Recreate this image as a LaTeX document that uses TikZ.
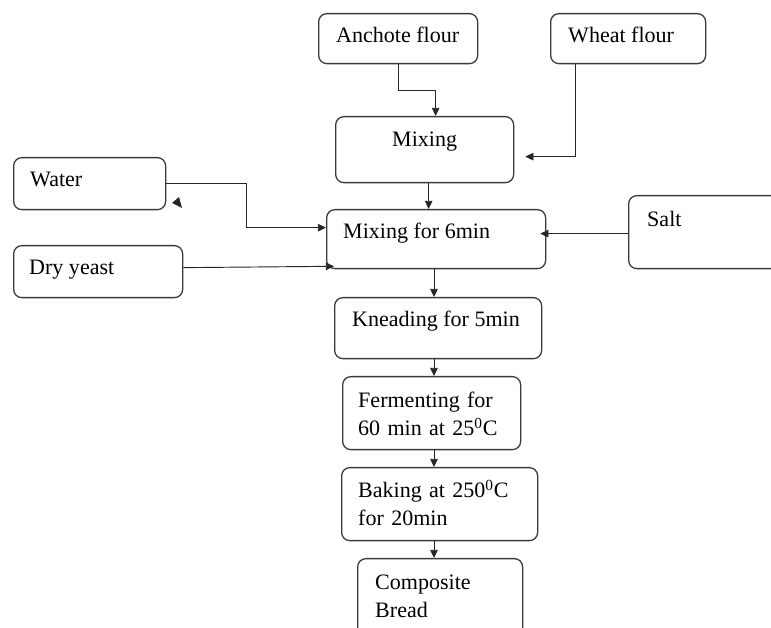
\documentclass[tikz,border=0pt]{standalone}
\usepackage{fontspec}
\setmainfont{LiberationSerif}[Extension=.ttf,UprightFont=*-Regular,BoldFont=*-Bold,ItalicFont=*-Italic,BoldItalicFont=*-BoldItalic]
\usetikzlibrary{arrows.meta,calc}
\definecolor{lineg}{HTML}{3A3A3A}
\tikzset{
  box/.style={draw=lineg,line width=1.1pt,rounded corners=7pt,anchor=north west,inner sep=0pt},
  sz/.style 2 args={minimum width=#1*0.03cm,minimum height=#2*0.03cm},
  lbl/.style={anchor=base west,inner sep=0pt,font=\rmfamily\fontsize{18.8}{23.9}\selectfont,align=left},
  ar/.style={-{Triangle[length=7pt,width=6.5pt]},draw=black!85,line width=0.8pt},
}
\begin{document}
\begin{tikzpicture}[x=0.03cm,y=-0.03cm]
  \useasboundingbox (0,0) rectangle (771,628);
  \clip (0,0) rectangle (771,628);
  % boxes
  \node[box,sz={159}{50}] (anc) at (318,13) {};
  \node[box,sz={155}{50}] (wht) at (550,13) {};
  \node[box,sz={178}{66}] (mix) at (335,116) {};
  \node[box,sz={152}{52}] (wat) at (13,157) {};
  \node[box,sz={169}{52}] (dry) at (13,245) {};
  \node[box,sz={219}{59}] (mix6) at (326,209) {};
  \node[box,sz={200}{73}] (salt) at (628,195) {};
  \node[box,sz={207}{61}] (kne) at (334,297) {};
  \node[box,sz={178}{73}] (fer) at (342,376) {};
  \node[box,sz={196}{73}] (bak) at (341,467) {};
  \node[box,sz={165}{100}] (comp) at (357,558) {};
  % texts
  \node[lbl] (tanc) at (336,43) {Anchote flour};
  \node[lbl] (twht) at (568,43) {Wheat flour};
  \node[lbl] (tmix) at (392,147) {Mixing};
  \node[lbl] (twat) at (30,187) {Water};
  \node[lbl] (tdry) at (29,275) {Dry yeast};
  \node[lbl] (tmix6) at (343,239) {Mixing for 6min};
  \node[lbl] (tsalt) at (647,227) {Salt};
  \node[lbl] (tkne) at (352,327) {Kneading for 5min};
  \node[lbl,text width=5cm] (tfer) at (358,408) {Fermenting for\\60 min at 25\textsuperscript{0}C};
  \node[lbl,text width=5cm] (tbak) at (358,498) {Baking at 250\textsuperscript{0}C\\for 20min};
  \node[lbl,text width=5cm] (tcomp) at (375,590) {Composite\\Bread};
  % connectors
  \coordinate (axis) at (434,0);
  \draw[ar] (anc.south) -- ++(0,26) -| ($(mix.north)+(11,0)$);
  \draw[ar] ($(wht.south west)+(25,0)$) |- ($(mix.east)+(11,7)$);
  \draw[ar] ($(mix.south)+(4,0)$) -- ($(mix6.north)+(-7.5,0)$);
  \draw[ar] (wat.east) -- ++(80,0) |- ($(mix6.west)+(0,-11.5)$);
  \fill[black!85] (172,203) -- (179,197) -- (182,208) -- cycle;
  \draw[ar] ($(dry.east)+(0,-4)$) -- ($(mix6.south west)+(8,-3)$);
  \draw[ar] ($(salt.west)+(0,1.5)$) -- ($(salt.west -| mix6.east)+(-6,1.5)$);
  \draw[ar] (mix6.south -| axis) -- (kne.north -| axis);
  \draw[ar] (kne.south -| axis) -- (fer.north -| axis);
  \draw[ar] (fer.south -| axis) -- (bak.north -| axis);
  \draw[ar] (bak.south -| axis) -- (comp.north -| axis);
\end{tikzpicture}
\end{document}
